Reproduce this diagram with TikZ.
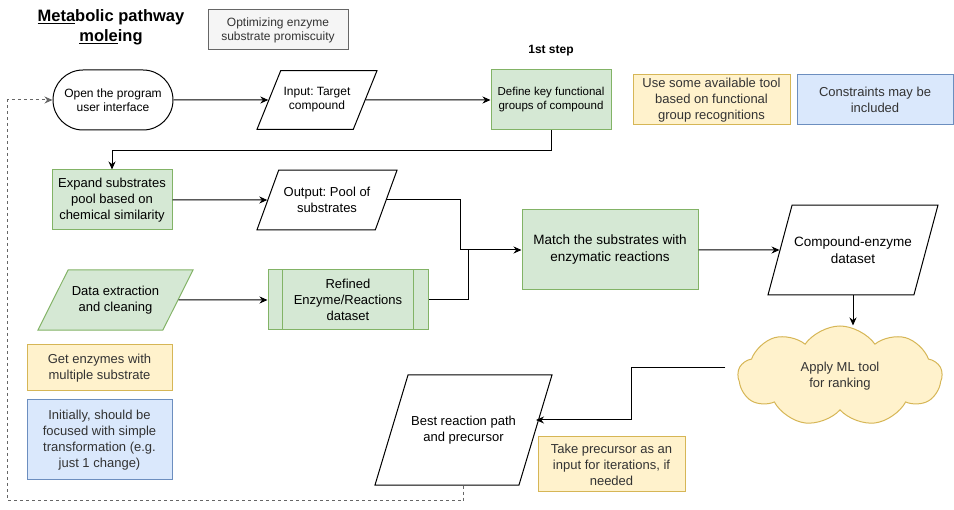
\documentclass[tikz,border=0pt]{standalone}
\usepackage{fontspec}
\setmainfont{Liberation Sans}
\usetikzlibrary{positioning,shapes.geometric,shapes.symbols,arrows.meta}
\frenchspacing

\definecolor{vihrea}{HTML}{D5E8D4}
\definecolor{vihreaviiva}{HTML}{82B366}
\definecolor{keltainen}{HTML}{FFF2CC}
\definecolor{keltainenviiva}{HTML}{D6B656}
\definecolor{sininen}{HTML}{DAE8FC}
\definecolor{sininenviiva}{HTML}{6C8EBF}
\definecolor{harmaa}{HTML}{F5F5F5}
\definecolor{harmaaviiva}{HTML}{666666}
\definecolor{harmaateksti}{HTML}{333333}

\begin{document}
\begin{tikzpicture}[x=1pt, y=-1pt, line width=1pt, >={Stealth[length=8pt,width=7pt]},
    every node/.style={align=center, inner sep=1pt, font=\fontsize{12}{14}\selectfont},
    prosessi/.style={rectangle, draw=vihreaviiva, fill=vihrea, minimum width=120pt, minimum height=60pt},
    syote/.style={trapezium, draw, trapezium stretches body, inner ysep=#1},
    huomio/.style={rectangle, font=\fontsize{13}{16}\selectfont, text=harmaateksti},
    keltahuomio/.style={huomio, draw=keltainenviiva, fill=keltainen},
    sinihuomio/.style={huomio, draw=sininenviiva, fill=sininen}]

\useasboundingbox (0,0) rectangle (954,510);

% otsikko ja muistiinpanot
\node[font=\fontsize{16.5}{20}\selectfont\bfseries] (otsikko) at (111,27)
    {\underline{Meta}bolic pathway\\\underline{mole}ing};
\node[draw=harmaaviiva, fill=harmaa, text=harmaateksti, minimum width=140pt, minimum height=40pt] (tavoite) at (278,30)
    {Optimizing enzyme\\substrate promiscuity};

% ylarivi
\node[draw, rounded corners=30pt, minimum width=120pt, minimum height=60pt] (alku) at (113,100)
    {Open the program\\user interface};
\node[syote=17pt, trapezium left angle=68, trapezium right angle=112, minimum width=120pt] (kohde) at (317,100)
    {Input: Target\\compound};
\node[prosessi, font=\fontsize{11.5}{14}\selectfont] (ryhmat) at (551,100)
    {Define key functional\\groups of compound};
\node[font=\fontsize{12}{14}\selectfont\bfseries, above=12pt of ryhmat] (vaihe1) {1st step};
\node[keltahuomio, minimum width=157pt, minimum height=50pt] (tyokalu) at (711.5,100)
    {Use some available tool\\based on functional\\group recognitions};
\node[sinihuomio, minimum width=156pt, minimum height=50pt] (rajoite) at (875,100)
    {Constraints may be\\included};

% keskiosa
\node[prosessi, font=\fontsize{13}{16}\selectfont] (laajenna) at (112,200)
    {Expand substrates\\pool based on\\chemical similarity};
\node[syote=17pt, trapezium left angle=70, trapezium right angle=110, minimum width=140pt, font=\fontsize{13}{16}\selectfont] (pooli) at (327,200)
    {Output: Pool of\\substrates};
\node[syote=16pt, trapezium left angle=63.4, trapezium right angle=116.6, minimum width=155pt,
      draw=vihreaviiva, fill=vihrea, font=\fontsize{13}{16}\selectfont] (data) at (115.5,300)
    {Data extraction\\and cleaning};
\node[prosessi, minimum width=160pt, font=\fontsize{13}{16}\selectfont] (jalostettu) at (348,300)
    {Refined\\Enzyme/Reactions\\dataset};
\draw[vihreaviiva] ([xshift=15pt]jalostettu.north west) -- ([xshift=15pt]jalostettu.south west)
                   ([xshift=-15pt]jalostettu.north east) -- ([xshift=-15pt]jalostettu.south east);
\node[prosessi, minimum width=176pt, minimum height=80pt, font=\fontsize{13.5}{17}\selectfont] (yhdista) at (610,250)
    {Match the substrates with\\enzymatic reactions};
\node[syote=31.5pt, trapezium left angle=75, trapezium right angle=105, minimum width=170pt,
      font=\fontsize{13.5}{17}\selectfont] (entsyymi) at (853,250)
    {Compound-enzyme\\dataset};

% alarivi
\node[cloud, cloud puffs=9, cloud puff arc=110, cloud ignores aspect, draw=keltainenviiva, fill=keltainen,
      minimum width=204pt, minimum height=100pt,
      font=\fontsize{13}{16}\selectfont, text=harmaateksti] (ml) at (840,376)
    {Apply ML tool\\for ranking};
\node[syote=41pt, trapezium left angle=73.3, trapezium right angle=106.7, minimum width=177pt,
      font=\fontsize{13}{16}\selectfont] (paras) at (463.5,430)
    {Best reaction path\\and precursor};
\node[keltahuomio, minimum width=147pt, minimum height=55pt] (iteraatio) at (611.5,464.5)
    {Take precursor as an\\input for iterations, if\\needed};
\node[keltahuomio, minimum width=145pt, minimum height=46pt] (monisubstraatti) at (99.5,368)
    {Get enzymes with\\multiple substrate};
\node[sinihuomio, minimum width=145pt, minimum height=80pt] (aluksi) at (99.5,440)
    {Initially, should be\\focused with simple\\transformation (e.g.\\just 1 change)};

% yhteydet
\coordinate (liitos1) at (460,250);
\coordinate (liitos2) at (468,250);
\draw[->] (alku) -- (kohde);
\draw[->] (kohde) -- (ryhmat);
\draw[->] (ryhmat.south) -- ++(0,20) -| (laajenna.north);
\draw[->] (laajenna) -- (pooli);
\draw[->] (data) -- (jalostettu);
\draw[->] (pooli.east) -| (liitos1) -- (yhdista.west);
\draw (jalostettu.east) -| (liitos2);
\draw[->] (yhdista) -- (entsyymi);
\draw[->] (entsyymi.south) -- (entsyymi.south |- ml.north);
\draw[->] ([xshift=-12pt, yshift=8pt]ml.west) -- ++(-94,0) |- ([yshift=10pt]paras.east);
\draw[->, dashed, harmaaviiva] (paras.center |- paras.south) -- ++(0,15) -| ([xshift=-45pt]alku.west) -- (alku.west);
\end{tikzpicture}
\end{document}
